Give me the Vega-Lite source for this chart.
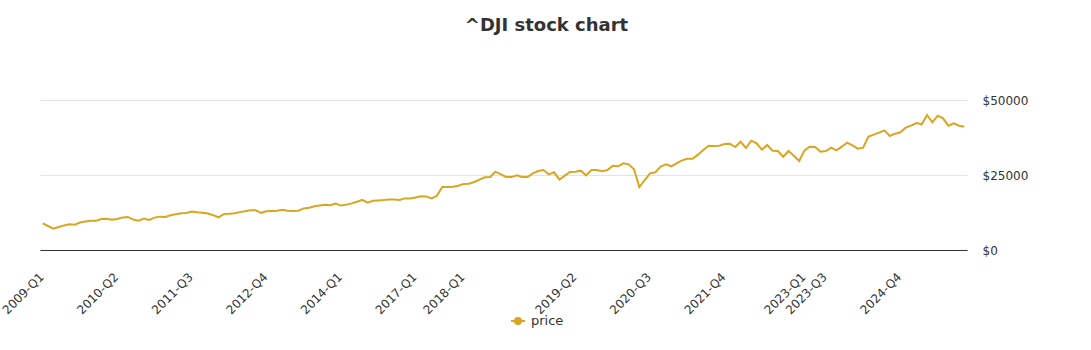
{
  "$schema": "https://vega.github.io/schema/vega-lite/v6.json",
  "width": 927,
  "height": 150,
  "autosize": {"type": "none"},
  "padding": {"left": 40, "top": 100, "right": 124, "bottom": 100},
  "background": "white",
  "title": {"text": "^DJI stock chart", "anchor": "middle", "frame": "group", "dx": 43, "offset": 45, "baseline": "alphabetic", "fontSize": 18, "font": "DejaVu Sans", "fontWeight": "bold", "color": "#333333"},
  "config": {"view": {"stroke": null}, "font": "DejaVu Sans"},
  "data": {"values": [
    {"date": "2009-01", "price": 8900}, {"date": "2009-02", "price": 8000}, {"date": "2009-03", "price": 7100}, {"date": "2009-04", "price": 7650}, {"date": "2009-05", "price": 8200}, {"date": "2009-06", "price": 8550}, {"date": "2009-07", "price": 8450}, {"date": "2009-08", "price": 9170}, {"date": "2009-09", "price": 9500}, {"date": "2009-10", "price": 9710}, {"date": "2009-11", "price": 9720}, {"date": "2009-12", "price": 10340},
    {"date": "2010-01", "price": 10430}, {"date": "2010-02", "price": 10070}, {"date": "2010-03", "price": 10330}, {"date": "2010-04", "price": 10860}, {"date": "2010-05", "price": 11010}, {"date": "2010-06", "price": 10140}, {"date": "2010-07", "price": 9780}, {"date": "2010-08", "price": 10470}, {"date": "2010-09", "price": 10020}, {"date": "2010-10", "price": 10790}, {"date": "2010-11", "price": 11120}, {"date": "2010-12", "price": 11010},
    {"date": "2011-01", "price": 11580}, {"date": "2011-02", "price": 11890}, {"date": "2011-03", "price": 12230}, {"date": "2011-04", "price": 12320}, {"date": "2011-05", "price": 12810}, {"date": "2011-06", "price": 12570}, {"date": "2011-07", "price": 12410}, {"date": "2011-08", "price": 12140}, {"date": "2011-09", "price": 11610}, {"date": "2011-10", "price": 10910}, {"date": "2011-11", "price": 11960}, {"date": "2011-12", "price": 12050},
    {"date": "2012-01", "price": 12220}, {"date": "2012-02", "price": 12630}, {"date": "2012-03", "price": 12950}, {"date": "2012-04", "price": 13210}, {"date": "2012-05", "price": 13210}, {"date": "2012-06", "price": 12390}, {"date": "2012-07", "price": 12880}, {"date": "2012-08", "price": 13010}, {"date": "2012-09", "price": 13090}, {"date": "2012-10", "price": 13440}, {"date": "2012-11", "price": 13100}, {"date": "2012-12", "price": 13030},
    {"date": "2013-01", "price": 13100}, {"date": "2013-02", "price": 13860}, {"date": "2013-03", "price": 14050}, {"date": "2013-04", "price": 14580}, {"date": "2013-05", "price": 14840}, {"date": "2013-06", "price": 15120}, {"date": "2013-07", "price": 14910}, {"date": "2013-08", "price": 15500}, {"date": "2013-09", "price": 14810}, {"date": "2013-10", "price": 15130}, {"date": "2013-11", "price": 15550}, {"date": "2013-12", "price": 16090},
    {"date": "2014-01", "price": 16700}, {"date": "2014-02", "price": 15750}, {"date": "2014-03", "price": 16420}, {"date": "2014-04", "price": 16540}, {"date": "2014-05", "price": 16640}, {"date": "2014-06", "price": 16820}, {"date": "2014-07", "price": 16830}, {"date": "2014-08", "price": 16700}, {"date": "2014-09", "price": 17200}, {"date": "2014-10", "price": 17150}, {"date": "2014-11", "price": 17500}, {"date": "2014-12", "price": 17880},
    {"date": "2015-01", "price": 17860}, {"date": "2015-02", "price": 17200}, {"date": "2015-03", "price": 18050},
    {"date": "2017-03", "price": 21000}, {"date": "2017-04", "price": 21000}, {"date": "2017-05", "price": 21100}, {"date": "2017-06", "price": 21440}, {"date": "2017-07", "price": 22000}, {"date": "2017-08", "price": 22100}, {"date": "2017-09", "price": 22670}, {"date": "2017-10", "price": 23440}, {"date": "2017-11", "price": 24220}, {"date": "2017-12", "price": 24330},
    {"date": "2018-01", "price": 26100}, {"date": "2018-02", "price": 25220}, {"date": "2018-03", "price": 24330}, {"date": "2018-04", "price": 24300}, {"date": "2018-05", "price": 24890}, {"date": "2018-06", "price": 24330}, {"date": "2018-07", "price": 24330}, {"date": "2018-08", "price": 25550}, {"date": "2018-09", "price": 26330}, {"date": "2018-10", "price": 26670}, {"date": "2018-11", "price": 25220}, {"date": "2018-12", "price": 25890},
    {"date": "2019-01", "price": 23440}, {"date": "2019-02", "price": 24780}, {"date": "2019-03", "price": 26000}, {"date": "2019-04", "price": 26110}, {"date": "2019-05", "price": 26440}, {"date": "2019-06", "price": 24890}, {"date": "2019-07", "price": 26670}, {"date": "2019-08", "price": 26670}, {"date": "2019-09", "price": 26220}, {"date": "2019-10", "price": 26670}, {"date": "2019-11", "price": 28110}, {"date": "2019-12", "price": 27890},
    {"date": "2020-01", "price": 28890}, {"date": "2020-02", "price": 28560}, {"date": "2020-03", "price": 26890}, {"date": "2020-04", "price": 21000}, {"date": "2020-05", "price": 23330}, {"date": "2020-06", "price": 25550}, {"date": "2020-07", "price": 25890}, {"date": "2020-08", "price": 27780}, {"date": "2020-09", "price": 28560}, {"date": "2020-10", "price": 27900}, {"date": "2020-11", "price": 28890}, {"date": "2020-12", "price": 29890},
    {"date": "2021-01", "price": 30440}, {"date": "2021-02", "price": 30440}, {"date": "2021-03", "price": 31780}, {"date": "2021-04", "price": 33330}, {"date": "2021-05", "price": 34780}, {"date": "2021-06", "price": 34670}, {"date": "2021-07", "price": 34780}, {"date": "2021-08", "price": 35330}, {"date": "2021-09", "price": 35440}, {"date": "2021-10", "price": 34330}, {"date": "2021-11", "price": 36110}, {"date": "2021-12", "price": 34000},
    {"date": "2022-01", "price": 36440}, {"date": "2022-02", "price": 35550}, {"date": "2022-03", "price": 33440}, {"date": "2022-04", "price": 35000}, {"date": "2022-05", "price": 33110}, {"date": "2022-06", "price": 33000}, {"date": "2022-07", "price": 31110}, {"date": "2022-08", "price": 33000}, {"date": "2022-09", "price": 31440}, {"date": "2022-10", "price": 29670}, {"date": "2022-11", "price": 33220}, {"date": "2022-12", "price": 34440},
    {"date": "2023-01", "price": 34330}, {"date": "2023-02", "price": 32780}, {"date": "2023-03", "price": 33000}, {"date": "2023-04", "price": 34110}, {"date": "2023-05", "price": 33220}, {"date": "2023-06", "price": 34440}, {"date": "2023-07", "price": 35780}, {"date": "2023-08", "price": 34890}, {"date": "2023-09", "price": 33780}, {"date": "2023-10", "price": 34110}, {"date": "2023-11", "price": 37780}, {"date": "2023-12", "price": 38440},
    {"date": "2024-01", "price": 39110}, {"date": "2024-02", "price": 39890}, {"date": "2024-03", "price": 38000}, {"date": "2024-04", "price": 38780}, {"date": "2024-05", "price": 39220}, {"date": "2024-06", "price": 40780}, {"date": "2024-07", "price": 41440}, {"date": "2024-08", "price": 42330}, {"date": "2024-09", "price": 41890}, {"date": "2024-10", "price": 45000}, {"date": "2024-11", "price": 42560}, {"date": "2024-12", "price": 44780},
    {"date": "2025-01", "price": 43890}, {"date": "2025-02", "price": 41440}, {"date": "2025-03", "price": 42220}, {"date": "2025-04", "price": 41440}, {"date": "2025-05", "price": 41110}
  ]},
  "mark": {"type": "line", "strokeWidth": 2, "interpolate": "linear"},
  "encoding": {
    "x": {
      "field": "date", "type": "ordinal", "sort": null,
      "scale": {"type": "point", "padding": 0.5},
      "axis": {
        "title": null,
        "values": ["2009-01", "2010-03", "2011-05", "2012-07", "2013-09", "2014-11", "2017-07", "2019-04", "2020-06", "2021-08", "2022-11", "2023-03", "2024-05"],
        "labelExpr": "datum.value == '2009-01' ? '2009-Q1' : datum.value == '2010-03' ? '2010-Q2' : datum.value == '2011-05' ? '2011-Q3' : datum.value == '2012-07' ? '2012-Q4' : datum.value == '2013-09' ? '2014-Q1' : datum.value == '2014-11' ? '2017-Q1' : datum.value == '2017-07' ? '2018-Q1' : datum.value == '2019-04' ? '2019-Q2' : datum.value == '2020-06' ? '2020-Q3' : datum.value == '2021-08' ? '2021-Q4' : datum.value == '2022-11' ? '2023-Q1' : datum.value == '2023-03' ? '2023-Q3' : datum.value == '2024-05' ? '2024-Q4' : ''",
        "labelAngle": -45,
        "labelAlign": "right",
        "labelBaseline": "top",
        "labelPadding": 21,
        "labelOffset": -5,
        "labelFontSize": 12,
        "labelFont": "DejaVu Sans",
        "labelColor": "#333333",
        "labelOverlap": false,
        "labelBound": false,
        "labelFlush": false,
        "ticks": false,
        "grid": false,
        "domainColor": "#333333",
        "domainWidth": 1
      }
    },
    "y": {
      "field": "price", "type": "quantitative",
      "scale": {"domain": [0, 50000], "nice": false},
      "axis": {
        "title": null,
        "orient": "right",
        "values": [0, 25000, 50000],
        "labelExpr": "'$' + datum.value",
        "domain": false,
        "ticks": false,
        "grid": true,
        "gridColor": "#e3e3e3",
        "gridWidth": 1,
        "labelPadding": 15,
        "labelFontSize": 12,
        "labelFont": "DejaVu Sans",
        "labelColor": "#333333"
      }
    },
    "color": {
      "datum": "price",
      "scale": {"range": ["#DAA520"]},
      "legend": {
        "title": null,
        "orient": "none",
        "legendX": 470,
        "legendY": 213,
        "padding": 0,
        "symbolType": "M-1,0L1,0M0.43,0A0.43,0.43,0,1,1,-0.43,0A0.43,0.43,0,1,1,0.43,0Z",
        "symbolSize": 196,
        "symbolStrokeWidth": 2,
        "labelFontSize": 13,
        "labelFont": "DejaVu Sans",
        "labelColor": "#333333",
        "labelOffset": 5,
        "encode": {"symbols": {"update": {"fill": {"value": "#DAA520"}, "stroke": {"value": "#DAA520"}, "strokeWidth": {"value": 2}, "opacity": {"value": 1}}}}
      }
    }
  }
}
